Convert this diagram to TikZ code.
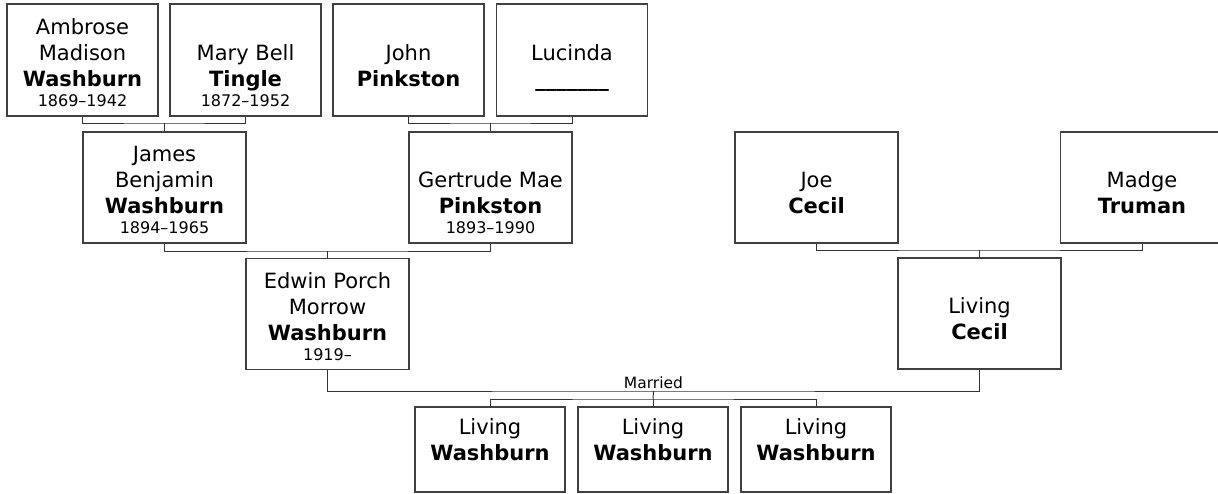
\documentclass[tikz,border=0pt]{standalone}
\usepackage{fontspec}
\setmainfont{DejaVu Sans}

% small line for the life dates (empty one keeps the slot)
\newcommand{\lifespan}[1]{\\[-6pt]{\fontsize{16}{19}\selectfont\strut #1}}
% tall first line, pushes the names down a little
\newcommand{\topline}{\rule{0pt}{26pt}}

\begin{document}
\begin{tikzpicture}[x=1pt,y=-1pt,
    person/.style={draw=black!75, line width=1.3pt, fill=white, align=center,
      inner sep=0pt, minimum width=163pt, minimum height=111pt,
      font=\fontsize{21}{26}\selectfont},
    elder/.style={person, minimum width=151pt, minimum height=112pt},
    kid/.style={person, minimum width=150pt, minimum height=85pt},
    link/.style={draw=black!80, line width=1pt}]
    \useasboundingbox (0,0) rectangle (1218,493);

    % Great-grandparents
    \node[elder] (ambrose)  at (82.5,60)  {\topline Ambrose\\Madison\\\textbf{Washburn}\lifespan{1869–1942}};
    \node[elder] (marybell) at (245.5,60) {\topline\\Mary Bell\\\textbf{Tingle}\lifespan{1872–1952}};
    \node[elder] (john)     at (408.5,60) {\topline\\John\\\textbf{Pinkston}\lifespan{}};
    \node[elder] (lucinda)  at (572,60)   {\topline\\Lucinda\\\textbf{\_\_\_\_\_\_\_}\lifespan{}};

    % Grandparents
    \node[person] (james)    at (164.5,187.5) {\topline James\\Benjamin\\\textbf{Washburn}\lifespan{1894–1965}};
    \node[person] (gertrude) at (490.5,187.5) {\topline\\Gertrude Mae\\\textbf{Pinkston}\lifespan{1893–1990}};
    \node[person] (joe)      at (816.5,187.5) {\topline\\Joe\\\textbf{Cecil}\lifespan{}};
    \node[person] (madge)    at (1142,187.5)  {\topline\\Madge\\\textbf{Truman}\lifespan{}};

    % Parents
    \node[person] (edwin)    at (327.5,314)   {\topline Edwin Porch\\Morrow\\\textbf{Washburn}\lifespan{1919–}};
    \node[person] (livcecil) at (979.5,313.5) {\topline\\Living\\\textbf{Cecil}\lifespan{}};

    % Children
    \node[kid] (kidA) at (490,449.5) {\rule{0pt}{22pt}Living\\\textbf{Washburn}\lifespan{}};
    \node[kid] (kidB) at (653,449.5) {\rule{0pt}{22pt}Living\\\textbf{Washburn}\lifespan{}};
    \node[kid] (kidC) at (816,449.5) {\rule{0pt}{22pt}Living\\\textbf{Washburn}\lifespan{}};

    % Junctions
    \coordinate (ab) at (164.5,123);
    \coordinate (jl) at (490.5,123);
    \coordinate (jg) at (327.5,251);
    \coordinate (jm) at (979.5,250);
    \coordinate (wed) at (653.5,391);
    \coordinate (brood) at (653,399);

    % Draw family lines
    \draw[link] (ambrose.south) |- (ab) -| (marybell.south);
    \draw[link] (ab) -- (james.north);
    \draw[link] (john.south) |- (jl) -| (lucinda.south);
    \draw[link] (jl) -- (gertrude.north);
    \draw[link] (james.south) |- (jg) -| (gertrude.south);
    \draw[link] (jg) -- (edwin.north);
    \draw[link] (joe.south) |- (jm) -| (madge.south);
    \draw[link] (jm) -- (livcecil.north);
    \draw[link] (edwin.south) |- (wed) -| (livcecil.south);
    \node[above, inner sep=2.5pt, font=\fontsize{15.5}{18}\selectfont] (married) at (wed) {Married};
    \draw[link] (wed) -- (brood);
    \draw[link] (kidA.north) |- (brood) -| (kidC.north);
    \draw[link] (brood) -- (kidB.north);

\end{tikzpicture}
\end{document}
